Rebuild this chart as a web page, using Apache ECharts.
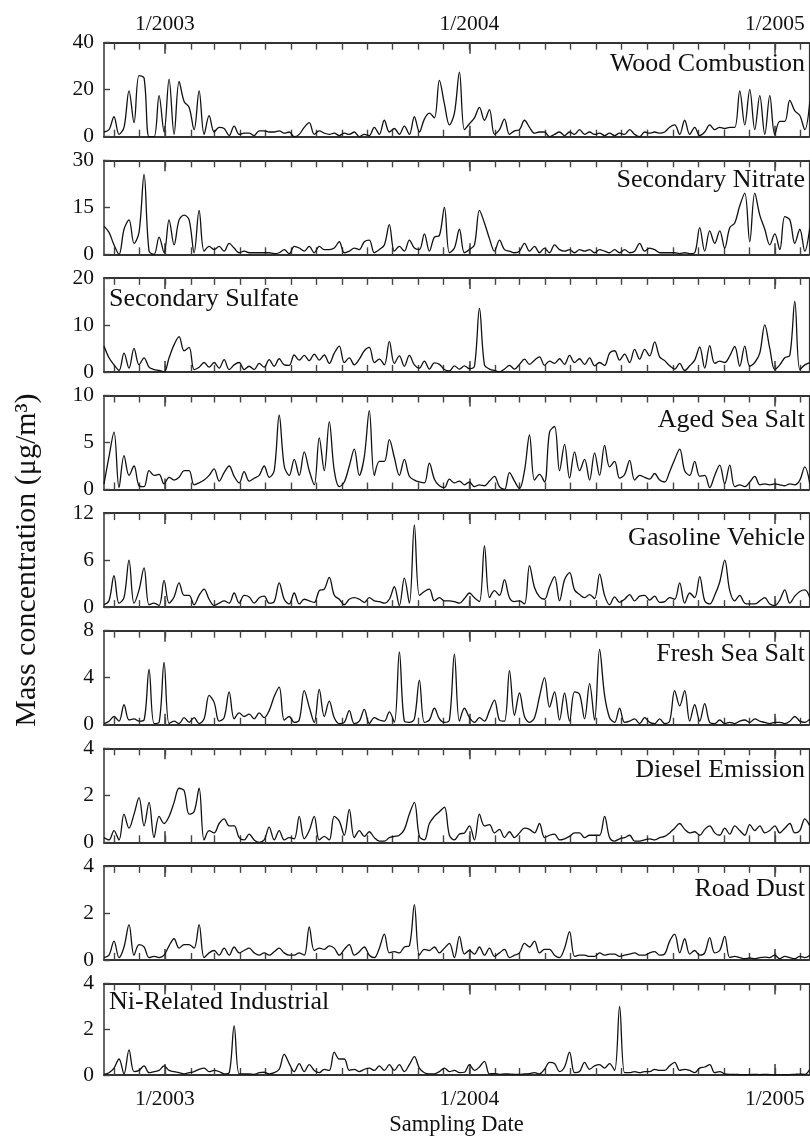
<!DOCTYPE html>
<html>
<head>
<meta charset="utf-8">
<script src="https://cdn.jsdelivr.net/npm/echarts@6/dist/echarts.min.js"></script>
<style>
  html, body { margin: 0; padding: 0; background: #fff; }
  #chart { width: 810px; height: 1138px; }
</style>
</head>
<body>
<div id="chart"></div>
<script>
// one sample every 6 days, first sample 2002-10-20
const woodCombustion = [2,3,8.5,1,4,19.5,6,26,25,0,0,17.5,2,24.5,1,23.5,15,12.5,3,19.5,
  1,9,2,4,3.5,0.5,4.5,1,1.5,1.5,0.5,2.5,2.5,2,2,2.5,1.5,2,0,1,
  4,6,1,2.5,1.5,1,1.5,0.5,1.5,1,2,0,1,0.5,4,1,7,2,3.5,1,
  4.5,1,8.5,2,7.5,10,8,24,14,5,10,27.5,3,5.5,8,12.5,7,11.5,1,3,
  7.5,1,2.5,3,7,4,1.5,2,2,0,1,2,0.5,2,1,3,1,2,1,1.5,
  0.5,1.5,0.5,1.5,1,3,1,0,2,1.5,2,1.5,2,4,5,1,7,1,4,0.5,
  2,5,3,4,3.5,4,4,19.5,5,20,3,17.5,1,17.5,1,6.5,6.5,15.5,11,9,
  3,15]
const secondaryNitrate = [9,7,3,0,8,11,3.5,7,25.5,1,0,5.5,0.5,11,3,11,12.5,11,0.5,14,
  1,2.5,1.5,2.5,1,3.5,2,0.5,1,0.5,0.5,0.5,0.5,0.5,0.2,0.5,1.5,0.2,2.5,2,
  1,2.5,0.5,2.5,1.5,1.5,2,4,0.5,1,2,1.5,4,4.5,0.5,1.5,3,9.5,1,2.5,
  1,4.5,2,1.5,6.5,1,5.5,6,15,0.5,2,8,0.5,1.5,3,14,10,5,1,4.5,
  1.5,1,0.5,1,3.5,1,2.5,0.5,2,0.5,3,1.5,1,1.5,0.5,1.5,1,1.5,0.5,1.5,
  1,0.5,1.5,0.5,1.5,0.5,1,3.5,1,2,1.5,0.5,0.5,0.5,0.5,0.2,0.5,0.2,0.5,8.5,
  1,7.5,3.5,7.5,2,8.5,10,15.5,19.5,4,19.5,12.5,8,3,6.5,1.5,12,11,3.5,8,
  1,8.5]
const secondarySulfate = [5.5,3,1.5,0.3,4,0.8,5,1.5,3,1,0.5,0.3,0,3,5.8,7.5,4.5,5.2,0.5,1,
  2,1,2,0.8,2.6,0.5,1.5,2,0.5,1.2,0.5,1.8,1,2.6,1.2,2.8,1.5,1.4,3.6,2.5,
  3.5,2.4,3.8,2.5,3.6,1.8,4,5.5,2,3,1.5,2.7,4.5,5.2,2,2.7,1.5,6.5,1.8,3.4,
  1.2,3.5,1.5,0.8,2.3,0.6,1.9,1.6,0.5,0.2,1.3,0.6,1.3,0.7,1.2,13.5,1.5,0.6,0.3,0,
  0.6,1.4,0.6,1.6,2.7,1.6,2.5,3.2,1.4,2.3,1.8,2.8,1.6,3.5,2,2.8,1.6,3,1.3,2,
  1.4,4,4.5,2.5,3.8,2,4.8,2.7,4.8,3.4,6.4,3.2,2.4,1.3,0.6,1.8,0.3,1.3,2.5,5.3,
  0.8,5.6,1.8,2.3,2,3.4,5.4,1.2,5.5,1.2,2,4,10,5,0.5,1.5,3,3.5,15,0.5,
  1.5,2]
const agedSeaSalt = [0.6,3.5,6.1,0.2,3.6,1.5,2.5,0.4,0.3,2,1.5,1.6,0.6,1.3,1,1.3,2,2,0.5,0.7,
  1,1.5,2.2,0.9,1.8,2.5,1.4,0.7,1.9,0.9,1.2,1.5,2.5,1.3,2,7.9,2.5,1.5,3.2,1.5,
  4,2,0.5,5.5,2,7.2,2,0.3,0.8,2.5,4.3,1.5,3.5,8.4,1.5,3,3,5.3,3.4,1.5,
  3.2,1.4,1,0.8,0.7,2.8,1.1,0.4,0.2,1.1,0.7,0.9,0.5,0.8,0.3,0.5,0.4,0.9,1.4,0.3,
  0,1.8,0.9,0.1,2,5.8,1,1.6,0.8,6.1,6.7,2,4.8,1.2,4,2,3.2,1,3.9,1.5,
  4.7,2.4,3,1.2,1.6,3.1,1,1.5,1.3,1.1,1.7,1,0.8,1.9,3.2,4.3,2,1.5,3,1.4,
  1.5,0.2,1.5,2.6,0.6,2.6,0.3,0.5,0.3,0.8,1.4,0.5,0.6,0.5,0.6,0.5,0.4,0.6,0.5,1,
  2.4,0.6]
const gasolineVehicle = [0.3,0.8,4,0.5,1.2,6,0.5,2.2,5,0.3,0.5,0.2,3.4,0.5,1.3,3.1,1.5,1.5,0.3,1.5,
  2.3,1,0.2,0.5,0.8,0.5,1.8,0.5,1.5,1.3,0.5,1.2,1.4,0.5,0.7,3.1,1,0.4,1.8,0.4,
  1,0.8,0.6,2.1,2.3,3.8,1.5,1,0.3,1,1.2,1,0.6,1.2,0.8,0.7,0.5,1,2.6,0.2,
  3.7,0.5,10.5,1.5,2,2.3,0.8,1.2,0.8,0.8,0.7,0.5,1.1,1.8,1.2,0.7,7.8,1.2,2.1,1.5,
  3.5,1.2,0.7,0.8,0.4,5.3,2.5,1.3,1,2.6,3.9,0.8,3.5,4.4,2.2,1.6,1.2,1.6,1.1,4.2,
  1.5,0.3,1.3,0.6,1,1.6,0.8,1.4,1.5,0.9,1.4,0.6,0.7,1.2,1,3.1,0.5,1.8,1.2,3.9,
  0.8,0.4,1.5,3.2,6,2.1,0.8,1.5,0.5,0.4,0.4,0.8,1.2,0.4,0.2,0.9,2.2,0.5,1.4,2,
  2.2,1.2]
const freshSeaSalt = [0.1,0.3,0.7,0.3,1.7,0.4,0.5,0.3,0.4,4.7,0.1,0.2,5.3,0.1,0.3,0.1,0.6,0.2,0.6,0.1,
  0.5,2.5,1.9,0.3,0.6,2.8,0.5,1,0.7,0.9,0.5,1,0.6,1.2,2.4,3.2,0.4,0.7,0.2,0.4,
  2.9,1.5,0.2,3,0.7,2,0.6,0.1,0.2,1.2,0.1,0.3,1.3,0.1,0.6,0.4,0.3,1.1,0.2,6.2,
  0.3,0.2,0.5,3.8,0.2,0.4,1.4,0.5,0.2,0.4,6,0.3,1.4,0.6,0.2,0.6,0.3,1.2,2.1,0.4,
  0.3,4.6,0.8,2.7,0.7,0.2,0.6,2.4,4,1.5,2.8,0.4,2.7,0.3,2.8,2.6,0.5,3.5,0.4,6.4,
  2.5,0.6,0.2,1.4,0.2,0.3,0.5,0.1,0.6,0.2,0.1,0.5,0.1,0.3,2.9,1.6,2.9,0.3,1.7,0.3,
  1.8,0.2,0.1,0.4,0.1,0.2,0.1,0.3,0.4,0.2,0.5,0.3,0.2,0.1,0.2,0.2,0.1,0.3,0.7,0.3,
  0.2,0.5]
const dieselEmission = [0.2,0.1,0.5,0.1,1.2,0.6,1.2,1.9,0.7,1.7,0.2,1.1,0.8,1.1,1.7,2.3,2.2,1.2,1.3,2.3,
  0.1,0.5,0.4,0.8,1,0.7,0.7,0.2,0.1,0.35,0.1,0,0.1,0.65,0.1,0.5,0.1,0.2,0.15,1.1,
  0.15,0.5,1.1,0.1,0.25,0.1,1.1,0.9,0.3,1.4,0.2,0.5,0.25,0.45,0.2,0.05,0.05,0.2,0.25,0.3,
  0.55,1.2,1.7,0.25,0.1,0.8,1.1,1.3,1.5,0.3,0.1,0.35,0.4,0.7,0.1,1.2,0.7,0.75,0.4,0.55,
  0.2,0.45,0.2,0.4,0.6,0.55,0.4,0.8,0.2,0.3,0.35,0.1,0.15,0.25,0.4,0.4,0.2,0.3,0.3,0.3,
  1.1,0.2,0.05,0.15,0.2,0.3,0.05,0.05,0.1,0.15,0.1,0.2,0.25,0.4,0.6,0.8,0.55,0.4,0.45,0.3,
  0.55,0.7,0.4,0.3,0.6,0.35,0.7,0.5,0.3,0.75,0.5,0.7,0.4,0.5,0.7,0.4,0.6,0.8,0.4,0.5,
  1,0.7]
const roadDust = [0.1,0.2,0.8,0.1,0.55,1.5,0.2,0.65,0.55,0.1,0.15,0.1,0.2,0.6,0.9,0.5,0.65,0.65,0.5,1.5,
  0.1,0.3,0.4,0.2,0.5,0.2,0.55,0.3,0.4,0.5,0.3,0.2,0.3,0.2,0.35,0.5,0.3,0.2,0.2,0.3,
  0.2,1.4,0.4,0.5,0.45,0.6,0.5,0.2,0.45,0.65,0.2,0.35,0.55,0.2,0.1,0.5,1.1,0.3,0.35,0.3,
  0.55,0.6,2.35,0.2,0.45,0.4,0.55,0.3,0.5,0.7,0.1,1,0.25,0.4,0.25,0.55,0.2,0.5,0.15,0.3,
  0.45,0.1,0.2,0.3,0.7,0.55,0.8,0.3,0.45,0.45,0.2,0.1,0.5,1.2,0.15,0.2,0.2,0.15,0.15,0.3,
  0.2,0.25,0.25,0.15,0.2,0.25,0.3,0.2,0.2,0.3,0.35,0.2,0.25,0.8,1.1,0.3,0.9,0.25,0.4,0.2,
  0.3,0.95,0.3,0.4,1,0.1,0.15,0.1,0.05,0.08,0.05,0.1,0.12,0.1,0.2,0.05,0.15,0.1,0.05,0.15,
  0.1,0.2]
const niIndustrial = [0.03,0.1,0.3,0.7,0.05,1.1,0.15,0.2,0.4,0.1,0.15,0.2,0.4,0.2,0.15,0.1,0.05,0.1,0.15,0.25,
  0.3,0.15,0.2,0.15,0.05,0.1,2.15,0.05,0.05,0.05,0.03,0.1,0.12,0.05,0.1,0.25,0.9,0.5,0.15,0.5,
  0.15,0.45,0.2,0.1,0.25,0.2,1,0.7,0.7,0.2,0.25,0.15,0.25,0.3,0.2,0.4,0.2,0.45,0.2,0.45,
  0.15,0.45,0.8,0.3,0.1,0.05,0.05,0.15,0.3,0.15,0.2,0.1,0.12,0.45,0.2,0.35,0.6,0.05,0.06,0.03,
  0.05,0.04,0.03,0.03,0.05,0.06,0.1,0.05,0.25,0.55,0.5,0.15,0.35,1,0.1,0.15,0.55,0.25,0.4,0.45,
  0.3,0.5,0.2,3,0.1,0.1,0.15,0.1,0.15,0.15,0.25,0.2,0.2,0.4,0.55,0.2,0.25,0.2,0.1,0.3,
  0.35,0.45,0.1,0.15,0.05,0.03,0.03,0.02,0.01,0.02,0.03,0.02,0.03,0.02,0.01,0.02,0.01,0.02,0.03,0.04,
  0.03,0.25]

const panelNames = ['Wood Combustion', 'Secondary Nitrate', 'Secondary Sulfate', 'Aged Sea Salt',
  'Gasoline Vehicle', 'Fresh Sea Salt', 'Diesel Emission', 'Road Dust', 'Ni-Related Industrial']
const panelData = [woodCombustion, secondaryNitrate, secondarySulfate, agedSeaSalt,
  gasolineVehicle, freshSeaSalt, dieselEmission, roadDust, niIndustrial]
const yMax = [40, 30, 20, 10, 12, 8, 4, 4, 4]
const yStep = [20, 15, 10, 5, 6, 4, 2, 2, 2]
const labelSide = ['right', 'right', 'left', 'right', 'right', 'right', 'right', 'right', 'left']
const labelDown = [22, 21, 22, 26, 26, 24, 23, 24, 20]

const stepDays = 6
const xMin = new Date(2002, 9, 20).getTime()
const xMax = new Date(2005, 1, 11).getTime()
const sampleDates = woodCombustion.map((v, i) => new Date(2002, 9, 20 + i * stepDays).getTime())

// tick positions: first of every month, and every January
let monthTicks = []
for (let m = 0; m < 28; m++) monthTicks.push(new Date(2002, 10 + m, 1).getTime())
const yearTicks = [new Date(2003, 0, 1).getTime(), new Date(2004, 0, 1).getTime(), new Date(2005, 0, 1).getTime()]

const font = '"Liberation Serif", "Times New Roman", serif'
const ink = '#111'
const frame = '#333'
const tickColor = '#444'

function monthYear(val) {
  const d = new Date(val)
  return (d.getMonth() + 1) + '/' + d.getFullYear()
}

let grids = [], xAxes = [], yAxes = [], series = [], titles = []

panelData.forEach((vals, g) => {
  const top = 42.7 + g * 117.6
  grids.push({ left: 104, width: 705, top: top, height: 94 })

  ;['bottom', 'top'].forEach(pos => {
    // monthly ticks
    xAxes.push({
      gridIndex: g, type: 'value', position: pos, min: xMin, max: xMax, scale: true,
      axisLine: { show: true, onZero: false, lineStyle: { color: frame, width: 2 } },
      axisTick: { show: true, inside: true, length: 7, customValues: monthTicks, lineStyle: { color: tickColor, width: 1.4 } },
      axisLabel: { show: false },
      splitLine: { show: false }
    })
    // yearly ticks + labels
    const showLab = (pos === 'top' && g === 0) || (pos === 'bottom' && g === 8)
    xAxes.push({
      gridIndex: g, type: 'value', position: pos, min: xMin, max: xMax, scale: true,
      axisLine: { show: false, onZero: false },
      axisTick: { show: true, inside: true, length: 11, customValues: yearTicks, lineStyle: { color: tickColor, width: 1.6 } },
      axisLabel: {
        show: showLab, formatter: monthYear, customValues: yearTicks,
        fontFamily: font, fontSize: 21.5, color: ink, margin: pos === 'top' ? 7 : 13
      },
      splitLine: { show: false },
      name: (pos === 'bottom' && g === 8) ? 'Sampling Date' : '',
      nameLocation: 'middle', nameGap: 39,
      nameTextStyle: { fontFamily: font, fontSize: 22.5, color: ink }
    })
  })

  yAxes.push({
    gridIndex: g, type: 'value', position: 'left', min: 0, max: yMax[g], interval: yStep[g],
    axisLine: { show: true, onZero: false, lineStyle: { color: frame, width: 1.5 } },
    axisTick: { show: true, inside: true, length: 6, lineStyle: { color: tickColor, width: 1.4 } },
    splitLine: { show: false },
    axisLabel: { fontFamily: font, fontSize: 21.5, color: ink, margin: 10 },
    name: g === 4 ? 'Mass concentration (μg/m³)' : '',
    nameLocation: 'middle', nameGap: 62,
    nameTextStyle: { fontFamily: font, fontSize: 30, color: ink }
  })
  // right frame edge
  yAxes.push({
    gridIndex: g, type: 'value', position: 'right', min: 0, max: yMax[g], interval: yStep[g],
    axisLine: { show: true, onZero: false, lineStyle: { color: frame, width: 1.2 } },
    axisTick: { show: false }, axisLabel: { show: false }, splitLine: { show: false }
  })

  series.push({
    type: 'line', xAxisIndex: g * 4, yAxisIndex: g * 2,
    data: sampleDates.map((t, k) => [t, vals[k]]),
    symbol: 'none', smooth: 0.35, clip: true,
    lineStyle: { color: ink, width: 1.3 }
  })

  let t = {
    text: panelNames[g], top: top + labelDown[g] - 14, padding: 0,
    textStyle: { fontFamily: font, fontSize: 26, fontWeight: 'normal', color: ink }
  }
  if (labelSide[g] === 'right') t.right = 5
  else t.left = 109
  titles.push(t)
})

let myChart = echarts.init(document.getElementById('chart'))
myChart.setOption({
  animation: false,
  backgroundColor: '#fff',
  title: titles,
  grid: grids,
  xAxis: xAxes,
  yAxis: yAxes,
  series: series
})
</script>
</body>
</html>
